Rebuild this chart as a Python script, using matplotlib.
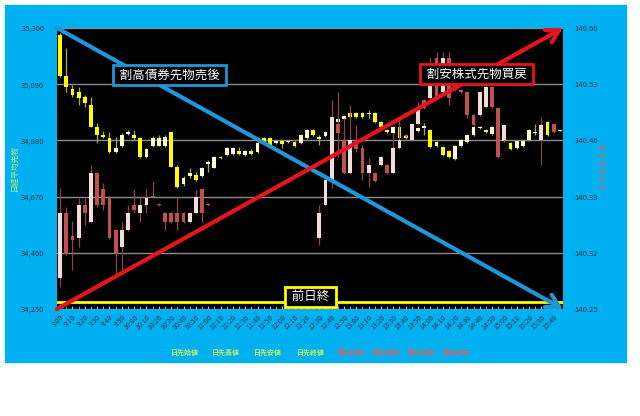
import matplotlib
matplotlib.use("Agg")
import matplotlib.pyplot as plt
from matplotlib import patches
import numpy as np

plt.rcParams['font.family'] = ['Noto Sans CJK JP', 'DejaVu Sans']

# 5-minute slots 9:00 .. 15:45
times = ["%d:%02d" % (9 + (5 * i) // 60, (5 * i) % 60) for i in range(82)]

# Nikkei 225 futures (left axis)
nk_open = [35274, 35122, 35072, 35062, 35043, 35012, 34931, 34900, 34888, 34838,
           34860, 34904, 34900, 34888, 34819, 34860, 34860, 34860, 34910, 34782,
           34717, 34747, 34751, 34748, 34792, 34778, 34819, 34825, 34829, 34840,
           34825, 34840, 34837, 34889, 34889, 34870, 34878, 34874, 34874, 34870,
           34889, 34919, 34893, 34896, 34930, 34949, 34960, 34982, 34982, 34982,
           34980, 34982, 34949, 34919, 34908, 34930, 34900, 34900, 34915, 34926,
           34919, 34859, 34855, 34840, 34810, 34859, 34874, 34900, 34926, 34919,
           34904, 34915, 34889, 34870, 34852, 34859, 34881, 34909, 34900, 34949,
           34926, 34916]
nk_high = [35281, 35224, 35087, 35081, 35050, 35043, 34944, 34915, 34912, 34894,
           34908, 34919, 34919, 34891, 34852, 34898, 34900, 34900, 34911, 34788,
           34747, 34777, 34762, 34781, 34807, 34823, 34822, 34855, 34854, 34856,
           34844, 34848, 34874, 34893, 34893, 34881, 34881, 34881, 34878, 34904,
           34923, 34923, 34900, 34915, 34949, 34964, 34975, 34986, 34986, 34986,
           34994, 34986, 34952, 34923, 34934, 34934, 34904, 34919, 34930, 34945,
           34923, 34878, 34859, 34844, 34863, 34885, 34904, 34934, 34934, 34923,
           34934, 34919, 34893, 34874, 34881, 34881, 34923, 34941, 34941, 34952,
           34938, 34920]
nk_low = [35117, 35062, 35043, 35012, 35006, 34930, 34869, 34889, 34832, 34833,
          34855, 34900, 34881, 34814, 34815, 34856, 34859, 34855, 34781, 34702,
          34710, 34739, 34728, 34745, 34762, 34777, 34810, 34822, 34825, 34825,
          34822, 34825, 34833, 34866, 34855, 34866, 34850, 34870, 34855, 34866,
          34885, 34896, 34863, 34893, 34926, 34945, 34956, 34964, 34964, 34964,
          34964, 34945, 34926, 34908, 34904, 34885, 34885, 34896, 34911, 34900,
          34852, 34855, 34822, 34814, 34807, 34855, 34870, 34896, 34923, 34908,
          34900, 34900, 34874, 34844, 34848, 34855, 34878, 34900, 34896, 34896,
          34923, 34915]
nk_close = [35122, 35081, 35050, 35040, 35019, 34931, 34900, 34893, 34838, 34850,
            34900, 34912, 34888, 34819, 34848, 34888, 34888, 34894, 34782, 34707,
            34739, 34758, 34732, 34778, 34799, 34819, 34814, 34852, 34852, 34829,
            34840, 34829, 34870, 34870, 34859, 34878, 34866, 34878, 34859, 34900,
            34919, 34900, 34885, 34911, 34945, 34960, 34971, 34967, 34967, 34967,
            34984, 34949, 34930, 34911, 34930, 34889, 34889, 34915, 34926, 34934,
            34855, 34874, 34825, 34818, 34859, 34881, 34900, 34930, 34930, 34911,
            34930, 34904, 34878, 34848, 34878, 34878, 34919, 34913, 34938, 34900,
            34936, 34919]
prev_close = 34275

# JGB futures (right axis), no trade during lunch / after close
jgb_open = ([140.289, 140.369, 140.341, 140.338, 140.379, 140.358, 140.419, 140.399, 140.389, 140.348,
             140.327, 140.348, 140.379, 140.369, 140.379, 140.391, 140.381, 140.369, 140.369, 140.369,
             140.369, 140.358, 140.369, 140.399, 140.381] + [None] * 17 +
            [140.338, 140.379, 140.411, 140.480, 140.460, 140.419, 140.457, 140.450,
             140.419, 140.419, 140.429, 140.429, 140.419, 140.450, 140.467, 140.460, 140.480, 140.510,
             140.513, 140.563, 140.520, 140.563, 140.538, 140.523, 140.520, 140.492, 140.492, 140.502,
             140.526, 140.500, 140.460] + [None] * 5 + [140.460, None, 140.480, None])
jgb_high = ([140.401, 140.377, 140.359, 140.388, 140.388, 140.429, 140.421, 140.407, 140.391, 140.350,
             140.358, 140.379, 140.399, 140.389, 140.399, 140.409, 140.382, 140.371, 140.371, 140.389,
             140.371, 140.371, 140.398, 140.401, 140.382] + [None] * 17 +
            [140.379, 140.412, 140.510, 140.520, 140.488, 140.504, 140.479, 140.454,
             140.438, 140.421, 140.441, 140.431, 140.469, 140.488, 140.468, 140.482, 140.508, 140.512,
             140.563, 140.570, 140.570, 140.570, 140.539, 140.524, 140.522, 140.493, 140.522, 140.533,
             140.528, 140.502, 140.480] + [None] * 5 + [140.489, None, 140.482, None])
jgb_low = ([140.277, 140.317, 140.299, 140.327, 140.355, 140.357, 140.377, 140.373, 140.337, 140.295,
            140.299, 140.347, 140.369, 140.358, 140.369, 140.388, 140.378, 140.348, 140.357, 140.348,
            140.357, 140.357, 140.368, 140.358, 140.378] + [None] * 17 +
           [140.330, 140.378, 140.401, 140.439, 140.418, 140.418, 140.446, 140.411,
            140.402, 140.408, 140.428, 140.418, 140.418, 140.449, 140.464, 140.459, 140.479, 140.499,
            140.512, 140.512, 140.519, 140.504, 140.522, 140.519, 140.488, 140.478, 140.490, 140.500,
            140.500, 140.438, 140.459] + [None] * 5 + [140.429, None, 140.469, None])
jgb_close = ([140.369, 140.318, 140.336, 140.379, 140.369, 140.419, 140.379, 140.379, 140.338, 140.320,
              140.348, 140.369, 140.373, 140.379, 140.388, 140.389, 140.379, 140.358, 140.358, 140.358,
              140.358, 140.369, 140.389, 140.369, 140.379] + [None] * 17 +
             [140.369, 140.411, 140.489, 140.469, 140.419, 140.460, 140.449, 140.419,
              140.429, 140.409, 140.439, 140.419, 140.450, 140.460, 140.465, 140.480, 140.498, 140.500,
              140.554, 140.513, 140.563, 140.513, 140.523, 140.520, 140.492, 140.479, 140.520, 140.526,
              140.502, 140.439, 140.479] + [None] * 5 + [140.479, None, 140.470, None])

nk_ticks = [34250, 34460, 34670, 34880, 35090, 35300]
jgb_ticks = [140.25, 140.32, 140.39, 140.46, 140.53, 140.60]

legend_nk = ["日先始値", "日先高値", "日先安値", "日先終値"]
legend_jgb = ["債先始値", "債先高値", "債先安値", "債先終値"]

BG = "#00B0F0"
BLUE = "#1E96D8"
RED = "#E8141B"
YEL = "#FFFF00"
LBL = "#C8F060"
JRED = "#C0504D"


def candles(ax, o, h, l, c, up, down, wick, minh):
    o, h, l, c = [np.array(v, dtype=float) for v in (o, h, l, c)]
    x = np.arange(len(o))
    ok = ~np.isnan(o)
    ax.vlines(x[ok], l[ok], h[ok], color=wick, lw=0.9, zorder=2)
    bottom = np.minimum(o, c)
    height = np.maximum(np.abs(c - o), minh)
    cols = np.where(c >= o, up, down)
    ax.bar(x[ok], height[ok], 0.62, bottom=bottom[ok], color=cols[ok],
           linewidth=0, zorder=3)


fig = plt.figure(figsize=(6.4, 4.16), dpi=100, facecolor="white")
bg = patches.Rectangle((5 / 640, 54 / 416), 621 / 640, 357 / 416,
                       transform=fig.transFigure, color=BG, zorder=-10)
fig.patches.append(bg)

ax = fig.add_axes([57 / 640, 107 / 416, 506 / 640, 281 / 416])
ax.set_facecolor("black")
ax2 = ax.twinx()

candles(ax, nk_open, nk_high, nk_low, nk_close, "#FFFFC8", YEL, "#A8A850", 2.5)
candles(ax2, jgb_open, jgb_high, jgb_low, jgb_close, "#F4DCDA", JRED, "#8E4442", 0.0008)

ax.set_xlim(-0.5, len(times) - 0.5)
ax.set_ylim(34250, 35300)
ax2.set_ylim(140.25, 140.60)
ax.set_yticks(nk_ticks)
ax.set_yticklabels(["{:,}".format(v) for v in nk_ticks])
ax2.set_yticks(jgb_ticks)
ax2.set_yticklabels(["%.2f" % v for v in jgb_ticks])
ax.grid(axis="y", color="#8C8C8C", lw=1)
ax.set_axisbelow(True)

ax.set_xticks(range(0, len(times), 2))
ax.set_xticklabels(times[::2], rotation=45, ha="right", va="top",
                   rotation_mode="anchor", fontsize=5, color="#2A3550")
ax.set_xticks(range(len(times)), minor=True)
ax.tick_params(axis="x", which="both", direction="in", length=2, color="#BBBBBB", pad=3)
ax.tick_params(axis="y", length=0, labelsize=5.5, labelcolor="#2A3550", pad=9)
ax2.tick_params(axis="y", length=0, labelsize=5.5, labelcolor="#2A3550", pad=8)
for a in (ax, ax2):
    for s in a.spines.values():
        s.set_visible(False)

# previous close line
ax.axhline(prev_close, color=YEL, lw=2, zorder=4)

# arrows
ax2.annotate("", xy=(1, 0), xytext=(0, 1), xycoords="axes fraction",
             arrowprops=dict(arrowstyle="->,head_length=0.9,head_width=0.5", color=BLUE,
                             lw=3, shrinkA=0, shrinkB=0), annotation_clip=False, zorder=6)
ax2.annotate("", xy=(1, 1), xytext=(0, 0), xycoords="axes fraction",
             arrowprops=dict(arrowstyle="->,head_length=0.9,head_width=0.5", color=RED,
                             lw=3, shrinkA=0, shrinkB=0), annotation_clip=False, zorder=6)

box = dict(boxstyle="square,pad=0.3", facecolor="black", linewidth=2)
ax2.text(0.223, 0.833, " 割高債券先物売後 ", transform=ax2.transAxes, color="white",
         fontsize=9, ha="center", va="center", zorder=7, bbox=dict(box, edgecolor=BLUE))
ax2.text(0.829, 0.836, " 割安株式先物買戻 ", transform=ax2.transAxes, color="white",
         fontsize=9, ha="center", va="center", zorder=7, bbox=dict(box, edgecolor=RED))
ax2.text(0.501, 0.043, " 前日終 ", transform=ax2.transAxes, color="white",
         fontsize=9, ha="center", va="center", zorder=7, bbox=dict(box, edgecolor=YEL))

# axis titles
fig.text(14 / 640, 1 - 168 / 416, "日経平均先物", rotation=90, color=LBL,
         fontsize=5.5, ha="center", va="center")
fig.text(602 / 640, 1 - 168 / 416, "\n".join("長期国債先物"), color="#C86A6A",
         fontsize=4.5, ha="center", va="center", linespacing=1.0)

# legend row
for name, xc in zip(legend_nk, [185, 226, 268, 311]):
    fig.text(xc / 640, 1 - 352 / 416, name, color=LBL, fontsize=5,
             ha="center", va="center", fontweight="bold")
for name, xc in zip(legend_jgb, [351, 386, 421, 456]):
    fig.text(xc / 640, 1 - 352 / 416, name, color="#C86A6A", fontsize=5,
             ha="center", va="center", fontweight="bold")

fig.savefig("out.png", dpi=100, facecolor="white")
